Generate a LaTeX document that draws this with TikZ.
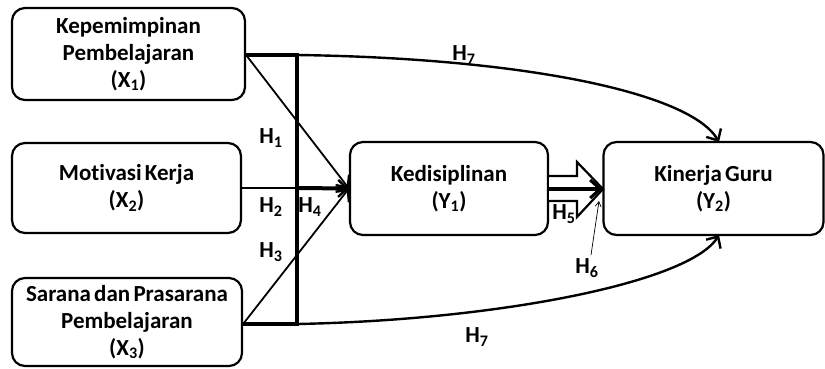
\documentclass[tikz,border=0pt]{standalone}
\usepackage{fontspec}
\setmainfont{Carlito}[Ligatures=NoCommon]
\usetikzlibrary{arrows.meta}
\newcommand\boxfont{\fontsize{23}{27}\selectfont\bfseries\spaceskip=0.14em plus 0.05em\relax}
\begin{document}
\begin{tikzpicture}[x=1pt,y=-1pt,
  box/.style={draw,line width=2.2pt,rounded corners=13pt,align=center,inner sep=0pt,
    font=\boxfont},
  lbl/.style={font=\fontsize{23}{24}\selectfont\bfseries,inner sep=0pt},
  tip/.style={-{Straight Barb[length=9pt,width=17pt,line width=2.4pt]}},
  thin/.style={line width=1.8pt},
  heavy/.style={line width=3.4pt}]
\useasboundingbox (0,0) rectangle (825,368);
\node[box,minimum width=233pt,minimum height=92pt] (x1) at (128.5,54) {Kepemimpinan\\Pembelajaran\\(X\textsubscript{1})};
\node[box,minimum width=229pt,minimum height=90pt] (x2) at (126.5,188) {Motivasi Kerja\\(X\textsubscript{2})};
\node[box,minimum width=230pt,minimum height=88pt] (x3) at (127,322) {Sarana dan Prasarana\\Pembelajaran\\(X\textsubscript{3})};
\node[box,minimum width=198pt,minimum height=93pt] (y1) at (449,188.5) {Kedisiplinan\\(Y\textsubscript{1})};
\node[box,minimum width=220pt,minimum height=93pt] (y2) at (713.5,188.5) {Kinerja Guru\\(Y\textsubscript{2})};
\coordinate (b1) at (297,55);
\coordinate (b2) at (297,188);
\coordinate (b3) at (297,324);
\coordinate (t1) at (719,142);
\coordinate (t2) at (719,235);
% bar and feeders
\draw[heavy] (x1.east |- b1) -- (b1) -- (b3) -- (x3.east |- b3);
\draw[thin] (x2.east |- b2) -- (b2);
\draw[heavy,line width=4pt,tip] (b2) -- (y1.west);
\draw[thin,tip] (x1.east |- b1) -- (y1.west);
\draw[thin,tip] (x3.east |- b3) -- (y1.west);
% H7 curves
\draw[line width=2.4pt,tip] (b1) .. controls (520,58) and (690,92) .. (t1);
\draw[line width=2.4pt,tip] (b3) .. controls (500,320) and (690,282) .. (t2);
% block arrow H5
\coordinate (s1) at (y1.east |- 0,176);
\coordinate (s2) at (y1.east |- 0,201);
\draw[line width=2.2pt,fill=white,line join=miter] (s1) -- (577,176) -- (577,162) -- (603,189) -- (577,217) -- (577,201) -- (s2);
\coordinate (hh) at (603,189);
\draw[line width=3.6pt,-{Straight Barb[length=10pt,width=18pt,line width=3pt]}] (y1.east |- 0,189) -- (y2.west |- hh);
% labels
\node[lbl] (h1) at (271,138) {H\textsubscript{1}};
\node[lbl] (h2) at (271,207) {H\textsubscript{2}};
\node[lbl] (h4) at (310,207) {H\textsubscript{4}};
\node[lbl] (h3) at (271,252) {H\textsubscript{3}};
\node[lbl] (h5) at (564,214) {H\textsubscript{5}};
\node[lbl] (h6) at (587,268) {H\textsubscript{6}};
\node[lbl] (h7a) at (464,55) {H\textsubscript{7}};
\node[lbl] (h7b) at (477,337) {H\textsubscript{7}};
\coordinate (h6t) at (599,201);
\draw[line width=0.7pt,-{Straight Barb[length=5pt,width=6pt]}] (591,255) -- (h6t);
\end{tikzpicture}
\end{document}
